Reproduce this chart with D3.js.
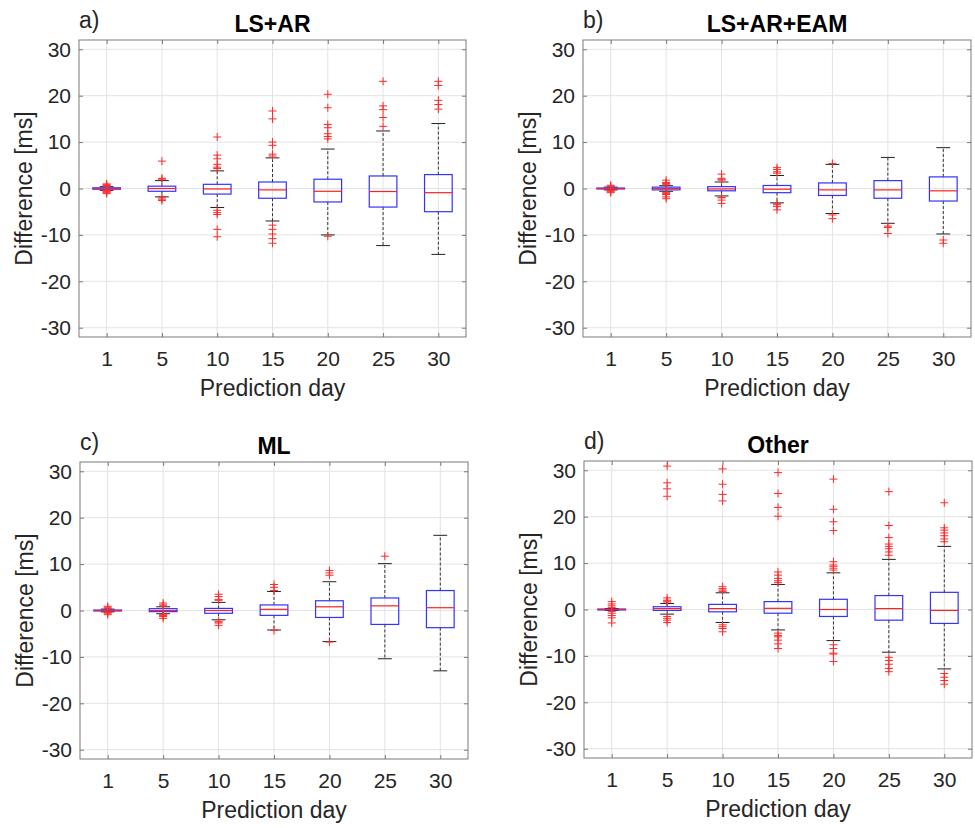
<!DOCTYPE html>
<html>
<head>
<meta charset="utf-8">
<script src="https://cdn.jsdelivr.net/npm/d3@7"></script>
<style>
  body { margin: 0; background: #fff; }
  svg { display: block; font-family: "Liberation Sans", Arial, sans-serif; }
</style>
</head>
<body>
<svg id="chart" width="975" height="828"></svg>
<script>
// prediction days and y ticks
const days = [1, 5, 10, 15, 20, 25, 30];
const yTicks = [-30, -20, -10, 0, 10, 20, 30];
const titles = ["LS+AR", "LS+AR+EAM", "ML", "Other"];
const letters = ["a)", "b)", "c)", "d)"];

// a) LS+AR
const q1A = [-0.15, -0.6, -1.2, -2.1, -2.9, -4.0, -5.0];
const medA = [0, 0, -0.1, -0.3, -0.6, -0.65, -0.9];
const q3A = [0.15, 0.5, 0.9, 1.4, 2.0, 2.7, 3.0];
const loA = [-0.4, -1.8, -4.1, -7.0, -10.0, -12.3, -14.2];
const hiA = [0.4, 1.7, 3.8, 6.6, 8.5, 12.4, 14.0];
const outA = [
  [0.45, 0.55, 0.65, 0.8, 1.0, -0.45, -0.55, -0.7, -0.9, -1.1],
  [2.0, 2.2, 5.9, -2.0, -2.3, -2.6],
  [4.3, 4.6, 5.2, 6.4, 7.2, 11.1, -4.7, -5.2, -5.6, -8.8, -10.4],
  [7.0, 7.4, 9.3, 10.0, 15.0, 16.7, -7.9, -8.8, -9.8, -10.8, -11.8],
  [10.7, 11.2, 11.8, 13.1, 13.8, 17.4, 20.3, -10.3],
  [13.4, 15.3, 17.0, 17.8, 23.1],
  [17.1, 18.1, 19.0, 22.2, 23.1]
];

// b) LS+AR+EAM
const q1B = [-0.1, -0.3, -0.5, -0.9, -1.5, -2.1, -2.7];
const medB = [0, 0, -0.1, -0.15, -0.3, -0.3, -0.5];
const q3B = [0.1, 0.3, 0.4, 0.65, 1.2, 1.7, 2.5];
const loB = [-0.3, -0.6, -1.6, -3.1, -5.4, -7.5, -9.8];
const hiB = [0.3, 0.6, 1.4, 2.8, 5.2, 6.7, 8.8];
const outB = [
  [0.4, 0.5, 0.7, -0.4, -0.5, -0.7, -0.9],
  [0.9, 1.1, 1.3, 1.8, -0.9, -1.1, -1.3, -1.8, -2.2],
  [1.8, 2.0, 2.2, 3.1, -1.9, -2.0, -2.5, -3.2],
  [3.3, 3.6, 4.1, 4.5, -3.3, -3.5, -3.9, -4.6],
  [5.4, -5.7, -6.5],
  [-8.1, -8.4, -9.7],
  [-11.1, -11.8]
];

// c) ML
const q1C = [-0.1, -0.25, -0.6, -1.05, -1.5, -3.0, -3.7];
const medC = [0, 0, 0, 0.25, 0.8, 1.0, 0.6];
const q3C = [0.1, 0.4, 0.45, 1.2, 2.1, 2.7, 4.3];
const loC = [-0.3, -0.7, -2.0, -4.2, -6.7, -10.4, -13.0];
const hiC = [0.3, 0.8, 1.75, 4.1, 6.2, 10.1, 16.2];
const outC = [
  [0.4, 0.6, 0.9, -0.4, -0.6, -0.9],
  [1.0, 1.2, 1.6, -0.9, -1.1, -1.3, -1.7],
  [2.2, 2.4, 3.0, 3.5, -2.3, -2.5, -2.7, -3.2],
  [4.3, 5.0, 5.6, -4.3],
  [7.6, 8.1, 8.6, -6.8],
  [11.7],
  []
];

// d) Other
const q1D = [-0.1, -0.2, -0.5, -0.8, -1.5, -2.3, -3.0];
const medD = [0, 0.2, 0.2, 0.25, 0, 0.2, -0.2];
const q3D = [0.1, 0.6, 1.1, 1.7, 2.2, 3.0, 3.7];
const loD = [-0.2, -1.0, -2.8, -4.4, -6.7, -9.2, -12.8];
const hiD = [0.2, 1.3, 3.6, 5.4, 7.9, 10.8, 13.6];
const outD = [
  [0.4, 0.8, 1.2, 1.7, -0.4, -0.8, -1.3, -1.8, -2.9],
  [1.6, 1.8, 2.0, 2.5, 24.4, 26.0, 27.3, 30.9, -1.5, -1.9, -2.3, -2.8],
  [3.9, 4.2, 4.5, 4.9, 23.4, 24.8, 27.0, 30.3, -3.3, -3.7, -4.1, -4.8],
  [5.8, 6.2, 6.7, 7.4, 8.1, 20.1, 22.0, 25.0, 29.5, -5.1, -5.6, -5.9, -6.6, -7.4, -8.4],
  [8.5, 8.9, 9.3, 9.6, 10.3, 17.0, 18.9, 21.6, 28.1, -7.6, -8.4, -9.4, -9.6, -11.2],
  [11.7, 12.4, 13.1, 13.6, 14.1, 15.5, 18.1, 25.4, -10.3, -11.0, -11.8, -12.7, -13.4],
  [14.6, 15.2, 15.9, 16.5, 17.1, 17.6, 23.0, -13.8, -14.6, -15.3, -16.1]
];

const panels = [
  { q1: q1A, med: medA, q3: q3A, lo: loA, hi: hiA, out: outA, l: 79, t: 40, r: 466, b: 337 },
  { q1: q1B, med: medB, q3: q3B, lo: loB, hi: hiB, out: outB, l: 583, t: 40, r: 971, b: 337 },
  { q1: q1C, med: medC, q3: q3C, lo: loC, hi: hiC, out: outC, l: 80, t: 462, r: 468, b: 759 },
  { q1: q1D, med: medD, q3: q3D, lo: loD, hi: hiD, out: outD, l: 584, t: 461, r: 972, b: 758 }
];

const svg = d3.select("#chart");
const textColor = "#262626";
const axisColor = "#7a7a7a";

panels.forEach(function(p, k) {
  const x = d3.scalePoint().domain(days).range([p.l, p.r]).padding(0.5);
  const y = d3.scaleLinear().domain([-32, 32]).range([p.b, p.t]);
  const bw = x.step() * 0.5;
  const g = svg.append("g");

  // grid
  g.selectAll(".gy").data(yTicks).enter().append("line")
    .attr("x1", p.l).attr("x2", p.r)
    .attr("y1", d => y(d)).attr("y2", d => y(d))
    .attr("stroke", "#e3e3e3").attr("stroke-width", 1);
  g.selectAll(".gx").data(days).enter().append("line")
    .attr("x1", d => x(d)).attr("x2", d => x(d))
    .attr("y1", p.t).attr("y2", p.b)
    .attr("stroke", "#e3e3e3").attr("stroke-width", 1);

  // axes, ticks pointing inward (plain hyphen for negatives, like the original)
  const ax = g.append("g").attr("transform", "translate(0," + p.b + ")")
    .call(d3.axisBottom(x).tickSizeInner(-4).tickSizeOuter(0).tickPadding(14));
  const ay = g.append("g").attr("transform", "translate(" + p.l + ",0)")
    .call(d3.axisLeft(y).tickValues(yTicks).tickFormat(d => String(d))
      .tickSizeInner(-4).tickSizeOuter(0).tickPadding(8));
  const axt = g.append("g").attr("transform", "translate(0," + p.t + ")")
    .call(d3.axisTop(x).tickSizeInner(-4).tickSizeOuter(0).tickFormat(""));
  const ayr = g.append("g").attr("transform", "translate(" + p.r + ",0)")
    .call(d3.axisRight(y).tickValues(yTicks).tickSizeInner(-4).tickSizeOuter(0).tickFormat(""));
  [ax, ay, axt, ayr].forEach(function(a) {
    a.select(".domain").remove();
    a.selectAll(".tick line").attr("stroke", axisColor);
    a.selectAll("text").attr("fill", textColor).style("font-size", "21px")
      .style("font-family", "'Liberation Sans', Arial, sans-serif");
  });

  g.append("rect")
    .attr("x", p.l).attr("y", p.t)
    .attr("width", p.r - p.l).attr("height", p.b - p.t)
    .attr("fill", "none").attr("stroke", axisColor).attr("stroke-width", 1);

  const idx = d3.range(days.length);

  // whiskers
  g.selectAll(".wu").data(idx).enter().append("line")
    .attr("x1", i => x(days[i])).attr("x2", i => x(days[i]))
    .attr("y1", i => y(p.q3[i])).attr("y2", i => y(p.hi[i]))
    .attr("stroke", "#333").attr("stroke-dasharray", "3,2").attr("stroke-width", 1);
  g.selectAll(".wl").data(idx).enter().append("line")
    .attr("x1", i => x(days[i])).attr("x2", i => x(days[i]))
    .attr("y1", i => y(p.q1[i])).attr("y2", i => y(p.lo[i]))
    .attr("stroke", "#333").attr("stroke-dasharray", "3,2").attr("stroke-width", 1);

  // caps
  [p.hi, p.lo].forEach(function(arr) {
    g.selectAll(null).data(idx).enter().append("line")
      .attr("x1", i => x(days[i]) - bw / 4).attr("x2", i => x(days[i]) + bw / 4)
      .attr("y1", i => y(arr[i])).attr("y2", i => y(arr[i]))
      .attr("stroke", "#222").attr("stroke-width", 1);
  });

  // boxes
  g.selectAll(".box").data(idx).enter().append("rect")
    .attr("x", i => x(days[i]) - bw / 2)
    .attr("y", i => y(p.q3[i]))
    .attr("width", bw)
    .attr("height", i => Math.max(0.5, y(p.q1[i]) - y(p.q3[i])))
    .attr("fill", "none").attr("stroke", "#3333ff").attr("stroke-width", 1.2);

  // medians
  g.selectAll(".med").data(idx).enter().append("line")
    .attr("x1", i => x(days[i]) - bw / 2).attr("x2", i => x(days[i]) + bw / 2)
    .attr("y1", i => y(p.med[i])).attr("y2", i => y(p.med[i]))
    .attr("stroke", "#ff2020").attr("stroke-width", 1.2);

  // outliers
  const pts = [];
  p.out.forEach(function(arr, i) { arr.forEach(v => pts.push({ d: days[i], v: v })); });
  g.selectAll(".out").data(pts).enter().append("path")
    .attr("transform", d => "translate(" + x(d.d) + "," + y(d.v) + ")")
    .attr("d", "M-4,0H4M0,-4V4")
    .attr("stroke", "#ff2a2a").attr("stroke-width", 1).attr("fill", "none");

  // labels
  const cx = (p.l + p.r) / 2;
  g.append("text")
    .attr("x", cx).attr("y", p.t - 8)
    .attr("text-anchor", "middle")
    .attr("fill", "#000")
    .style("font-size", "23px").style("font-weight", "bold")
    .text(titles[k]);
  g.append("text")
    .attr("x", p.l).attr("y", p.t - 12)
    .attr("fill", textColor)
    .style("font-size", "23px")
    .text(letters[k]);
  g.append("text")
    .attr("x", cx).attr("y", p.b + 59)
    .attr("text-anchor", "middle")
    .attr("fill", textColor)
    .style("font-size", "23px")
    .text("Prediction day");
  g.append("text")
    .attr("transform", "translate(" + (p.l - 47) + "," + ((p.t + p.b) / 2) + ") rotate(-90)")
    .attr("text-anchor", "middle")
    .attr("fill", textColor)
    .style("font-size", "23px")
    .text("Difference [ms]");
});
</script>
</body>
</html>
